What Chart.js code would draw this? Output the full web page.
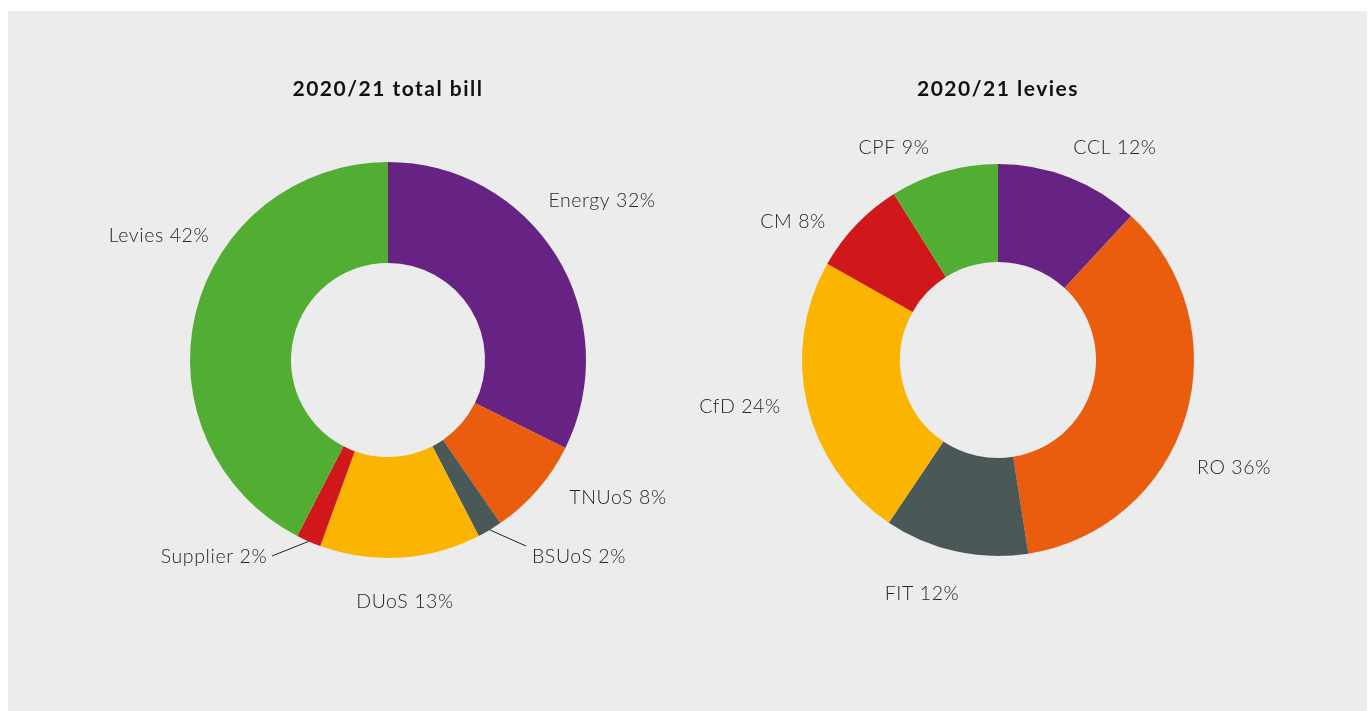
<!DOCTYPE html>
<html>
<head>
<meta charset="utf-8">
<script src="https://cdn.jsdelivr.net/npm/chart.js@4.4.1/dist/chart.umd.min.js"></script>
<style>
body { margin: 0; background: #fff; }
#panel { position: absolute; left: 8px; top: 11px; width: 1359px; height: 700px; background: #ececec; }
.box { position: absolute; top: 49px; width: 600px; height: 600px; }
</style>
</head>
<body>
<div id="panel">
  <div class="box" style="left:80px"><canvas id="bill"></canvas></div>
  <div class="box" style="left:690px"><canvas id="levies"></canvas></div>
</div>
<script>
// data
const billLabels = ['Energy', 'TNUoS', 'BSUoS', 'DUoS', 'Supplier', 'Levies'];
const billValues = [32, 8, 2, 13, 2, 42];
const levyLabels = ['CCL', 'RO', 'FIT', 'CfD', 'CM', 'CPF'];
const levyValues = [12, 36, 12, 24, 8, 9];

const billColors = ['#662383', '#ea5d0e', '#4a5858', '#fbb400', '#d0181b', '#52ae32'];
const levyColors = ['#662383', '#ea5d0e', '#4a5858', '#fbb400', '#d0181b', '#52ae32'];

// label spots, offset from the donut centre
const billPlaces = [[214, -159], [230, 138], [191, 197], [17, 242], [-174, 197], [-229, -124]];
const billLeaders = [null, null, [138, 186], null, [-116, 196], null];
const levyPlaces = [[117, -212], [236, 108], [-76, 234], [-258, 47], [-205, -138], [-104, -212]];

const sliceLabels = {
    id: 'sliceLabels',
    afterDatasetsDraw(chart, args, opts) {
        const ctx = chart.ctx;
        const arcs = chart.getDatasetMeta(0).data;
        const labels = chart.data.labels;
        const vals = chart.data.datasets[0].data;
        ctx.save();
        ctx.textAlign = 'center';
        ctx.textBaseline = 'middle';
        arcs.forEach((arc, i) => {
            const p = opts.places[i];
            ctx.font = '300 19.5px Lato';
            ctx.letterSpacing = '0.6px';
            ctx.fillStyle = '#262626';
            ctx.fillText(labels[i] + ' ' + vals[i] + '%', arc.x + p[0], arc.y + p[1]);
            const l = opts.leaders ? opts.leaders[i] : null;
            if (l) {
                const mid = (arc.startAngle + arc.endAngle) / 2;
                ctx.beginPath();
                ctx.moveTo(arc.x + Math.cos(mid) * arc.outerRadius, arc.y + Math.sin(mid) * arc.outerRadius);
                ctx.lineTo(arc.x + l[0], arc.y + l[1]);
                ctx.strokeStyle = '#222';
                ctx.lineWidth = 1;
                ctx.stroke();
            }
        });
        // heading above each donut
        const a = arcs[0];
        ctx.font = 'bold 21px Lato';
        ctx.letterSpacing = '1.5px';
        ctx.fillStyle = '#111';
        ctx.fillText(opts.title, a.x, a.y - 271);
        ctx.restore();
    }
};

function donut(id, labels, values, colors, cutout, pad, labelOpts) {
    new Chart(document.getElementById(id), {
        type: 'doughnut',
        data: {
            labels: labels,
            datasets: [{
                data: values,
                backgroundColor: colors,
                borderWidth: 0,
                hoverOffset: 0
            }]
        },
        options: {
            responsive: false,
            animation: false,
            cutout: cutout,
            layout: { padding: pad },
            plugins: {
                legend: { display: false },
                tooltip: { enabled: false },
                sliceLabels: labelOpts
            }
        },
        plugins: [sliceLabels]
    });
}

document.getElementById('bill').width = 600;
document.getElementById('bill').height = 600;
document.getElementById('levies').width = 600;
document.getElementById('levies').height = 600;

donut('bill', billLabels, billValues, billColors, '49%', 102,
    { places: billPlaces, leaders: billLeaders, title: '2020/21 total bill' });
donut('levies', levyLabels, levyValues, levyColors, '50%', 104,
    { places: levyPlaces, title: '2020/21 levies' });
</script>
</body>
</html>
